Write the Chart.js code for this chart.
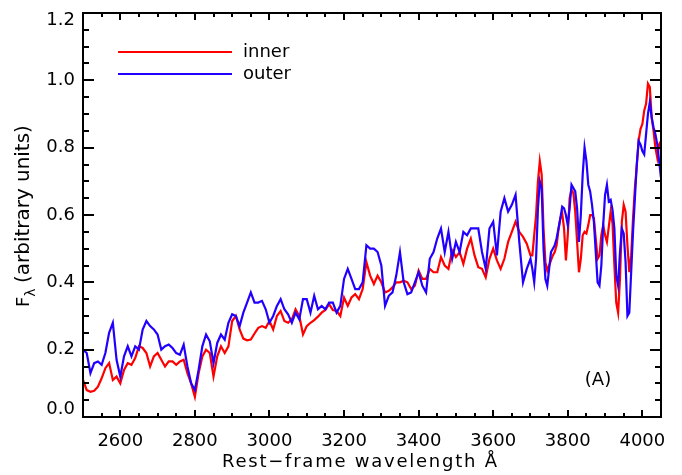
<!DOCTYPE html>
<html>
<head>
<meta charset="utf-8">
<script src="https://cdn.jsdelivr.net/npm/chart.js@4.4.1/dist/chart.umd.min.js"></script>
<style>
html,body{margin:0;padding:0;background:#fff;}
canvas{display:block;}
</style>
</head>
<body>
<canvas id="c" width="682" height="475"></canvas>
<script>
// Rest-frame wavelength grid (Å)
const wavelength = [
2500,2510,2520,2530,2540,2550,2560,2570,2580,2590,
2600,2610,2620,2630,2640,2650,2660,2670,2680,2690,
2700,2710,2720,2730,2740,2750,2760,2770,2780,2790,
2800,2810,2820,2830,2840,2850,2860,2870,2880,2890,
2900,2910,2920,2930,2940,2950,2960,2970,2980,2990,
3000,3010,3020,3030,3040,3050,3060,3070,3080,3090,
3100,3110,3120,3130,3140,3150,3160,3170,3180,3190,
3200,3210,3220,3230,3240,3250,3260,3270,3280,3290,
3300,3310,3320,3330,3340,3350,3360,3370,3380,3390,
3400,3410,3420,3430,3440,3450,3460,3470,3480,3490,
3500,3510,3520,3530,3540,3550,3560,3570,3580,3590,
3600,3610,3620,3630,3640,3650,3660,3670,3680,3690,
3700,3705,3710,3715,3720,3725,3730,3735,3740,3745,3750,
3755,3760,3765,3770,3775,3780,3785,3790,3795,3800,
3805,3810,3815,3820,3825,3830,3835,3840,3845,3850,
3855,3860,3865,3870,3875,3880,3885,3890,3895,3900,
3905,3910,3915,3920,3925,3930,3935,3940,3945,3950,
3955,3960,3965,3970,3975,3980,3985,3990,3995,4000,
4005,4010,4015,4020,4025,4030,4035,4040,4045,4050
];

// inner region spectrum (red)
const inner = [
0.11,0.08,0.075,0.078,0.09,0.115,0.145,0.16,0.11,0.12,
0.10,0.14,0.16,0.155,0.175,0.21,0.205,0.19,0.15,0.18,
0.19,0.17,0.15,0.165,0.165,0.155,0.165,0.17,0.13,0.10,
0.06,0.13,0.18,0.20,0.19,0.12,0.18,0.21,0.19,0.21,
0.285,0.30,0.26,0.233,0.228,0.23,0.248,0.265,0.27,0.265,
0.285,0.26,0.30,0.315,0.285,0.28,0.29,0.32,0.30,0.245,
0.27,0.28,0.288,0.298,0.31,0.318,0.335,0.318,0.315,0.30,
0.355,0.33,0.355,0.365,0.35,0.38,0.46,0.42,0.395,0.42,
0.40,0.37,0.375,0.385,0.40,0.40,0.405,0.40,0.38,0.39,
0.435,0.41,0.41,0.44,0.43,0.43,0.475,0.45,0.44,0.495,
0.475,0.49,0.455,0.50,0.53,0.48,0.445,0.44,0.415,0.47,
0.50,0.465,0.44,0.47,0.52,0.55,0.58,0.55,0.535,0.515,
0.48,0.48,0.54,0.60,0.70,0.76,0.72,0.56,0.46,0.435,0.45,
0.465,0.48,0.49,0.51,0.555,0.59,0.605,0.56,0.465,0.54,
0.65,0.675,0.665,0.61,0.52,0.43,0.47,0.54,0.55,0.545,
0.57,0.60,0.60,0.59,0.53,0.47,0.48,0.54,0.57,0.54,
0.52,0.565,0.61,0.575,0.45,0.34,0.31,0.41,0.58,0.63,
0.61,0.51,0.43,0.48,0.59,0.68,0.745,0.82,0.855,0.87,
0.91,0.93,0.99,0.98,0.89,0.85,0.80,0.77,0.81,0.82
];

// outer region spectrum (blue)
const outer = [
0.20,0.19,0.13,0.16,0.165,0.155,0.19,0.25,0.28,0.17,
0.12,0.18,0.21,0.18,0.21,0.20,0.26,0.285,0.27,0.26,
0.245,0.20,0.21,0.215,0.205,0.19,0.185,0.215,0.15,0.10,
0.08,0.14,0.21,0.245,0.225,0.16,0.22,0.245,0.23,0.28,
0.305,0.30,0.27,0.31,0.34,0.37,0.34,0.34,0.345,0.32,
0.28,0.30,0.33,0.35,0.32,0.305,0.28,0.31,0.29,0.35,
0.35,0.31,0.36,0.32,0.33,0.32,0.34,0.34,0.31,0.33,
0.41,0.44,0.41,0.38,0.38,0.40,0.51,0.50,0.50,0.49,
0.45,0.33,0.36,0.37,0.42,0.49,0.40,0.365,0.37,0.40,
0.43,0.39,0.37,0.47,0.49,0.53,0.56,0.49,0.55,0.47,
0.52,0.49,0.55,0.54,0.56,0.56,0.56,0.49,0.44,0.56,
0.58,0.48,0.61,0.65,0.61,0.63,0.66,0.52,0.40,0.44,
0.47,0.44,0.40,0.47,0.62,0.70,0.68,0.50,0.41,0.39,0.44,
0.49,0.50,0.51,0.53,0.56,0.59,0.625,0.62,0.60,0.57,
0.62,0.69,0.68,0.67,0.62,0.52,0.60,0.72,0.80,0.76,
0.69,0.67,0.63,0.58,0.49,0.40,0.39,0.45,0.57,0.66,
0.69,0.64,0.645,0.615,0.56,0.42,0.39,0.49,0.56,0.545,
0.46,0.30,0.31,0.43,0.55,0.65,0.75,0.82,0.81,0.79,
0.78,0.84,0.90,0.935,0.89,0.86,0.84,0.81,0.76,0.71
];

const seriesNames = ['inner', 'outer'];
const xTickLabels = [2600, 2800, 3000, 3200, 3400, 3600, 3800, 4000];
const yTickLabels = ['0.0', '0.2', '0.4', '0.6', '0.8', '1.0', '1.2'];

const RED = '#ff0000';
const BLUE = '#2200ff';
const FONT = 'DejaVu Sans';

const toPts = arr => wavelength.map((w, i) => ({x: w, y: arr[i]}));

function fitFont(ctx, text, base, target) {
  ctx.font = base + 'px "' + FONT + '"';
  const w = ctx.measureText(text).width;
  return base * target / w;
}

const decor = {
  id: 'decor',
  afterDraw(chart) {
    const {ctx, chartArea: a, scales: {x, y}} = chart;
    ctx.save();
    ctx.strokeStyle = '#000';
    ctx.lineWidth = 2;
    ctx.lineCap = 'butt';
    // frame
    ctx.strokeRect(a.left, a.top, a.right - a.left, a.bottom - a.top);
    // x ticks (inward, top & bottom)
    ctx.beginPath();
    for (let v = 2500; v <= 4050; v += 50) {
      const px = Math.round(x.getPixelForValue(v));
      const len = (v % 200 === 0) ? 7 : 4;
      ctx.moveTo(px, a.bottom); ctx.lineTo(px, a.bottom - len);
      ctx.moveTo(px, a.top); ctx.lineTo(px, a.top + len);
    }
    // y ticks (inward, left & right)
    for (let k = 0; k <= 24; k++) {
      const py = Math.round(y.getPixelForValue(k * 0.05));
      const len = (k % 4 === 0) ? 11 : 6;
      ctx.moveTo(a.left, py); ctx.lineTo(a.left + len, py);
      ctx.moveTo(a.right, py); ctx.lineTo(a.right - len, py);
    }
    ctx.stroke();

    // legend
    const legX0 = 118, legX1 = 232, legTx = 243;
    const legY = [52, 74];
    const legC = [RED, BLUE];
    ctx.font = '18px "' + FONT + '"';
    ctx.textBaseline = 'middle';
    ctx.textAlign = 'left';
    for (let i = 0; i < 2; i++) {
      ctx.strokeStyle = legC[i];
      ctx.lineWidth = 2.2;
      ctx.beginPath();
      ctx.moveTo(legX0, legY[i]); ctx.lineTo(legX1, legY[i]);
      ctx.stroke();
      ctx.fillStyle = '#000';
      ctx.fillText(seriesNames[i], legTx, legY[i]);
    }

    // panel label
    ctx.fillStyle = '#000';
    ctx.textAlign = 'center';
    ctx.fillText('(A)', 598, 380);

    // x title: spread to the reference width
    const xt = 'Rest\u2212frame wavelength \u00C5';
    ctx.font = '18px "' + FONT + '"';
    const w0 = ctx.measureText(xt).width;
    const extra = Math.max(0, (275 - w0) / (xt.length - 1));
    ctx.textAlign = 'left';
    if ('letterSpacing' in ctx) {
      ctx.letterSpacing = extra.toFixed(2) + 'px';
      ctx.fillText(xt, 222, 462);
      ctx.letterSpacing = '0px';
    } else {
      let cx = 222;
      for (const ch of xt) { ctx.fillText(ch, cx, 462); cx += ctx.measureText(ch).width + extra; }
    }

    // y title (rotated) F_lambda (arbitrary units)
    ctx.save();
    ctx.translate(24, 307);
    ctx.rotate(-Math.PI / 2);
    ctx.textAlign = 'left';
    ctx.textBaseline = 'middle';
    const ys = fitFont(ctx, '(arbitrary units)', 18, 158);
    ctx.font = '18px "' + FONT + '"';
    ctx.fillText('F', 0, 0);
    const fw = ctx.measureText('F').width;
    ctx.font = '14px "' + FONT + '"';
    ctx.fillText('\u03BB', fw, 7);
    ctx.font = ys.toFixed(2) + 'px "' + FONT + '"';
    ctx.fillText('(arbitrary units)', 24, 0);
    ctx.restore();

    ctx.restore();
  }
};

new Chart(document.getElementById('c'), {
  type: 'line',
  data: {
    datasets: [
      {label: seriesNames[1], data: toPts(outer), borderColor: BLUE, borderWidth: 2.2, pointRadius: 0, tension: 0, fill: false, order: 1},
      {label: seriesNames[0], data: toPts(inner), borderColor: RED, borderWidth: 2.2, pointRadius: 0, tension: 0, fill: false, order: 2}
    ]
  },
  options: {
    responsive: false,
    animation: false,
    devicePixelRatio: 1,
    layout: {padding: {left: 0, right: 21, top: 13, bottom: 0}},
    plugins: {legend: {display: false}, tooltip: {enabled: false}},
    scales: {
      x: {
        type: 'linear', min: 2500, max: 4050,
        afterFit(s) { s.height = 58; s.paddingLeft = 0; s.paddingRight = 0; },
        grid: {display: false, drawTicks: false},
        border: {display: false},
        afterBuildTicks(s) { s.ticks = xTickLabels.map(v => ({value: v})); },
        ticks: {autoSkip: false, maxRotation: 0, padding: 14, color: '#000',
          font: {family: FONT, size: 18}, callback: v => String(v)}
      },
      y: {
        type: 'linear', min: 0, max: 1.2,
        afterFit(s) { s.width = 83; s.paddingTop = 0; s.paddingBottom = 0; },
        grid: {display: false, drawTicks: false},
        border: {display: false},
        afterBuildTicks(s) { s.ticks = yTickLabels.map(t => ({value: parseFloat(t)})); },
        ticks: {autoSkip: false, padding: 8, color: '#000',
          font: {family: FONT, size: 18, lineHeight: 0.85},
          callback: (v, i) => {
            const t = yTickLabels[i];
            if (i === 0) return [t, ''];
            if (i === yTickLabels.length - 1) return ['', t];
            return t;
          }}
      }
    }
  },
  plugins: [decor]
});
</script>
</body>
</html>
